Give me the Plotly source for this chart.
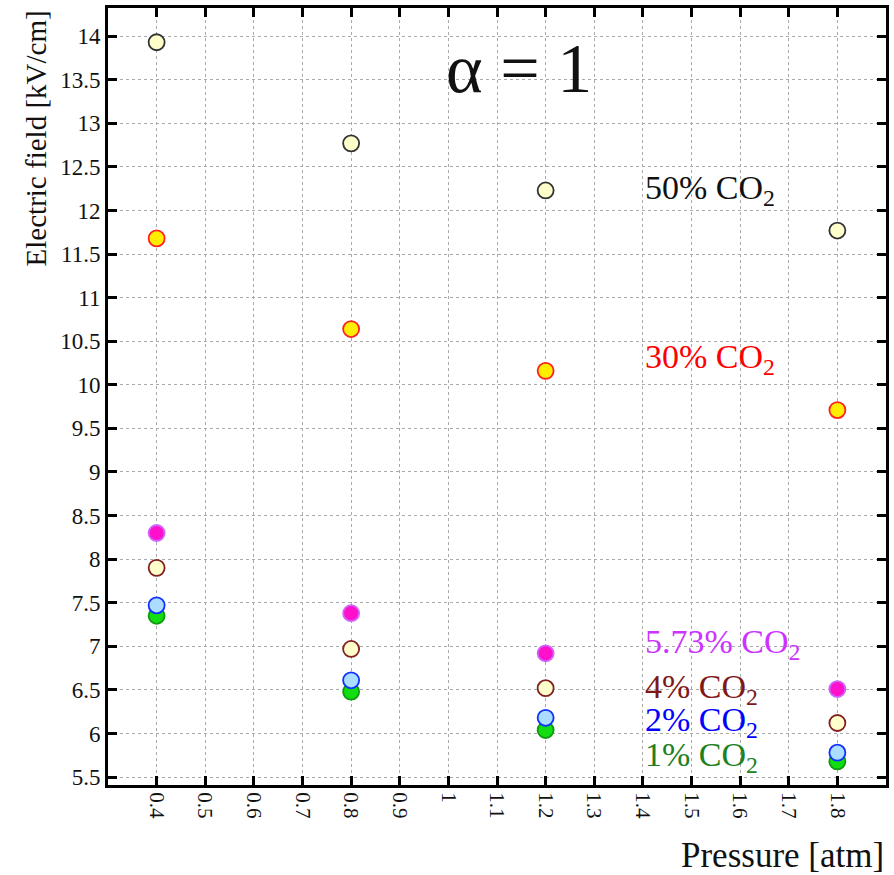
import plotly.graph_objects as go

pressure = [0.4, 0.8, 1.2, 1.8]
co2_50 = [13.93, 12.77, 12.23, 11.77]
co2_30 = [11.68, 10.64, 10.16, 9.71]
co2_573 = [8.30, 7.38, 6.92, 6.51]
co2_4 = [7.90, 6.97, 6.52, 6.12]
co2_2 = [7.47, 6.61, 6.18, 5.78]
co2_1 = [7.35, 6.48, 6.04, 5.68]

series = [
    ("1% CO2", co2_1, "#11dd11", "#119911"),
    ("2% CO2", co2_2, "#aaddff", "#1030ff"),
    ("4% CO2", co2_4, "#ffffcc", "#802020"),
    ("5.73% CO2", co2_573, "#ff11cc", "#cc66ff"),
    ("30% CO2", co2_30, "#ffee00", "#ff2020"),
    ("50% CO2", co2_50, "#ffffcc", "#333333"),
]

labels = [
    ("50% CO<sub>2</sub>", 12.23, "#111111"),
    ("30% CO<sub>2</sub>", 10.30, "#ff0000"),
    ("5.73% CO<sub>2</sub>", 7.03, "#cc33ff"),
    ("4% CO<sub>2</sub>", 6.51, "#801818"),
    ("2% CO<sub>2</sub>", 6.13, "#0000ff"),
    ("1% CO<sub>2</sub>", 5.73, "#208020"),
]

xticks = [0.4, 0.5, 0.6, 0.7, 0.8, 0.9, 1.0, 1.1, 1.2, 1.3, 1.4, 1.5, 1.6, 1.7, 1.8]
xticktext = ["0.4", "0.5", "0.6", "0.7", "0.8", "0.9", "1", "1.1", "1.2", "1.3", "1.4", "1.5", "1.6", "1.7", "1.8"]
yticks = [5.5, 6, 6.5, 7, 7.5, 8, 8.5, 9, 9.5, 10, 10.5, 11, 11.5, 12, 12.5, 13, 13.5, 14]
yticktext = ["5.5", "6", "6.5", "7", "7.5", "8", "8.5", "9", "9.5", "10", "10.5", "11", "11.5", "12", "12.5", "13", "13.5", "14"]

serif = "Liberation Serif"

fig = go.Figure()
for name, ys, fill, edge in series:
    fig.add_trace(go.Scatter(
        x=pressure, y=ys, mode="markers", name=name,
        marker=dict(size=16, color=fill, line=dict(color=edge, width=1.8)),
    ))

for txt, yv, col in labels:
    fig.add_annotation(x=1.40, y=yv, xref="x", yref="y", text=txt, showarrow=False,
                       xanchor="left", yanchor="middle",
                       font=dict(family=serif, size=34, color=col))

fig.add_annotation(x=1.145, y=13.63, xref="x", yref="y", text="α = 1", showarrow=False,
                   xanchor="center", yanchor="middle",
                   font=dict(family=serif, size=70, color="#111111"))

fig.update_layout(
    width=894, height=875,
    margin=dict(l=108, r=6, t=5, b=90),
    paper_bgcolor="white", plot_bgcolor="white",
    showlegend=False,
    xaxis=dict(range=[0.3, 1.9], tickmode="array", tickvals=xticks, ticktext=xticktext,
               tickangle=90, tickfont=dict(family=serif, size=21, color="#111111"),
               ticks="inside", ticklen=9, showline=True, mirror="ticks"),
    yaxis=dict(range=[5.409, 14.323], tickmode="array", tickvals=yticks, ticktext=yticktext,
               tickfont=dict(family=serif, size=23, color="#111111"),
               ticks="inside", ticklen=9, showline=True, mirror="ticks"),
)

for upd in (fig.update_xaxes, fig.update_yaxes):
    upd(tickwidth=2.5, tickcolor="black", linewidth=3, linecolor="black",
        showgrid=True, gridcolor="#aaaaaa", gridwidth=1, griddash="3px,3px", zeroline=False)

fig.add_annotation(x=-0.092, y=1.0, xref="paper", yref="paper", text="Electric field [kV/cm]",
                   textangle=-90, showarrow=False, xanchor="center", yanchor="top",
                   font=dict(family=serif, size=29, color="#111111"))
fig.add_annotation(x=1.0, y=-0.091, xref="paper", yref="paper", text="Pressure [atm]",
                   showarrow=False, xanchor="right", yanchor="middle",
                   font=dict(family=serif, size=35, color="#111111"))

fig.write_html("out.html")
